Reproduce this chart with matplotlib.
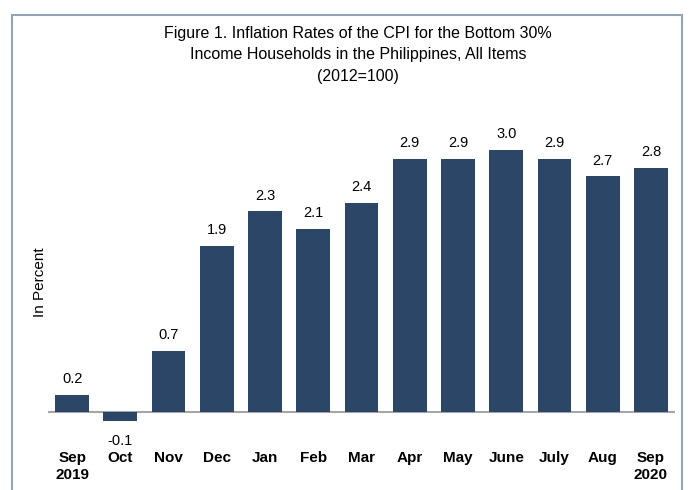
import matplotlib.pyplot as plt
from matplotlib.patches import Rectangle

plt.rcParams['font.family'] = ['Liberation Sans Narrow', 'Liberation Sans', 'DejaVu Sans']

months = ['Sep\n2019', 'Oct', 'Nov', 'Dec', 'Jan', 'Feb', 'Mar', 'Apr',
          'May', 'June', 'July', 'Aug', 'Sep\n2020']
rates = [0.2, -0.1, 0.7, 1.9, 2.3, 2.1, 2.4, 2.9, 2.9, 3.0, 2.9, 2.7, 2.8]

BAR_COLOR = '#2c4668'
W, H = 692, 490

fig = plt.figure(figsize=(W / 100, H / 100), dpi=100)

# outer frame
fig.patches.append(Rectangle((12 / W, -0.05), 670 / W, 1.05 - 15 / H,
                             transform=fig.transFigure, fill=False,
                             edgecolor='#93a5b3', linewidth=1.5))

fig.text(358 / W, 1 - 55 / H,
         'Figure 1. Inflation Rates of the CPI for the Bottom 30%\n'
         'Income Households in the Philippines, All Items\n(2012=100)',
         ha='center', va='center', fontsize=11.5, linespacing=1.55)

ax = fig.add_axes([48 / W, 50 / H, 627 / W, 320 / H])
x = range(len(rates))
ax.bar(x, rates, width=0.7, color=BAR_COLOR)
ax.axhline(0, color='#a6a6a6', linewidth=1.5, zorder=0)
ax.set_xlim(-0.5, len(rates) - 0.5)
ax.set_ylim(-0.32, 3.345)

for i, v in enumerate(rates):
    off = 0.1 if v >= 0 else -0.15
    ax.text(i, v + off, f'{v:.1f}', ha='center',
            va='bottom' if v >= 0 else 'top', fontsize=10.5)

ax.set_xticks(list(x))
ax.set_xticklabels(months, fontsize=11, fontweight='bold', linespacing=1.3)
ax.tick_params(axis='x', length=0, pad=8)
ax.set_yticks([])
for s in ax.spines.values():
    s.set_visible(False)

fig.text(40 / W, 1 - 282 / H, 'In Percent', rotation=90, ha='center',
         va='center', fontsize=11)

fig.savefig('out.png', dpi=100)
